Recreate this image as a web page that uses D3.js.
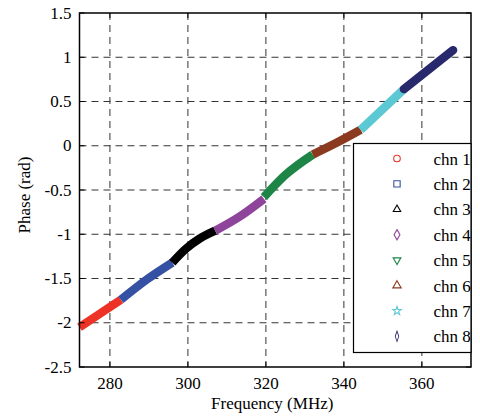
<!DOCTYPE html>
<html lang="en">
<head>
  <meta charset="utf-8">
  <title>Phase vs Frequency</title>
  <script src="https://d3js.org/d3.v7.min.js"></script>
  <style>
    body { margin: 0; padding: 0; background: #fff; }
    svg { display: block; }
    svg text { font-family: "Liberation Serif", "DejaVu Serif", "Times New Roman", serif; fill: #000; font-size: 17px; }
    svg text.legend-label { font-size: 17px; }
  </style>
</head>
<body>
  <div id="chart"></div>
  <script>
    // Data: frequency (MHz) and phase (rad) along each channel band
    const channels = ["chn 1", "chn 2", "chn 3", "chn 4", "chn 5", "chn 6", "chn 7", "chn 8"];
    const colors = ["#ec3326", "#3551a3", "#000000", "#8f449c", "#1d8646", "#8b3a1f", "#5cc8d3", "#28286c"];
    const freqs = [
      [272.2, 282.8],
      [282.8, 289.5, 296],
      [296, 299.6, 303, 307],
      [307, 313.3, 319.5],
      [319.5, 325, 332],
      [332, 338, 344.3],
      [344.3, 355.4],
      [355.4, 368]
    ];
    const phases = [
      [-2.05, -1.74],
      [-1.74, -1.51, -1.32],
      [-1.32, -1.16, -1.05, -0.96],
      [-0.96, -0.80, -0.60],
      [-0.58, -0.33, -0.10],
      [-0.10, 0.03, 0.18],
      [0.18, 0.64],
      [0.64, 1.08]
    ];
    const xTicks = [280, 300, 320, 340, 360];
    const yTicks = [-2.5, -2, -1.5, -1, -0.5, 0, 0.5, 1, 1.5];

    const W = 480, H = 416;
    const margin = { top: 13, right: 9, bottom: 49, left: 79.5 };
    const iw = W - margin.left - margin.right;
    const ih = H - margin.top - margin.bottom;

    const svg = d3.select("#chart").append("svg")
      .attr("width", W).attr("height", H);
    const g = svg.append("g").attr("transform", `translate(${margin.left},${margin.top})`);

    const x = d3.scaleLinear().domain([272.2, 372.6]).range([0, iw]);
    const y = d3.scaleLinear().domain([-2.5, 1.5]).range([ih, 0]);

    // Dashed grid
    g.selectAll(".vgrid").data(xTicks).enter().append("line")
      .attr("x1", d => x(d)).attr("x2", d => x(d))
      .attr("y1", 0).attr("y2", ih)
      .attr("stroke", "#333").attr("stroke-width", 1)
      .attr("stroke-dasharray", "7,5");
    g.selectAll(".hgrid").data(yTicks.filter(d => d > -2.5 && d < 1.5)).enter().append("line")
      .attr("x1", 0).attr("x2", iw)
      .attr("y1", d => y(d)).attr("y2", d => y(d))
      .attr("stroke", "#333").attr("stroke-width", 1)
      .attr("stroke-dasharray", "7,5");

    // Channel bands (dense markers drawn as a thick line)
    const line = d3.line().x(d => x(d[0])).y(d => y(d[1])).curve(d3.curveMonotoneX);
    channels.forEach((c, i) => {
      const pts = freqs[i].map((f, j) => [f, phases[i][j]]);
      g.append("path")
        .attr("d", line(pts))
        .attr("fill", "none")
        .attr("stroke", colors[i])
        .attr("stroke-width", 8.5)
        .attr("stroke-linecap", i === 7 ? "round" : "butt");
    });

    // Frame and inner ticks
    g.append("rect").attr("width", iw).attr("height", ih)
      .attr("fill", "none").attr("stroke", "#000").attr("stroke-width", 1.5);
    const tl = 5;
    xTicks.forEach(t => {
      g.append("line").attr("x1", x(t)).attr("x2", x(t)).attr("y1", ih).attr("y2", ih - tl).attr("stroke", "#000");
      g.append("line").attr("x1", x(t)).attr("x2", x(t)).attr("y1", 0).attr("y2", tl).attr("stroke", "#000");
    });
    yTicks.forEach(t => {
      g.append("line").attr("x1", 0).attr("x2", tl).attr("y1", y(t)).attr("y2", y(t)).attr("stroke", "#000");
      g.append("line").attr("x1", iw).attr("x2", iw - tl).attr("y1", y(t)).attr("y2", y(t)).attr("stroke", "#000");
    });

    // Tick labels
    g.selectAll(".xl").data(xTicks).enter().append("text")
      .attr("x", d => x(d)).attr("y", ih + 22)
      .attr("text-anchor", "middle")
      .text(d => d);
    g.selectAll(".yl").data(yTicks).enter().append("text")
      .attr("x", -8).attr("y", d => y(d) + 5.5)
      .attr("text-anchor", "end")
      .text(d => d);

    // Axis titles
    svg.append("text")
      .attr("x", margin.left + iw / 2 - 3).attr("y", 409)
      .attr("text-anchor", "middle")
      .text("Frequency (MHz)");
    svg.append("text")
      .attr("transform", "translate(30,195) rotate(-90)")
      .attr("text-anchor", "middle")
      .text("Phase (rad)");

    // Legend
    const legend = svg.append("g").attr("transform", "translate(353.5,143.5)");
    legend.append("rect").attr("width", 117.5).attr("height", 209)
      .attr("fill", "#fff").attr("stroke", "#000").attr("stroke-width", 1.2);
    const symbols = [
      d3.symbol().type(d3.symbolCircle).size(34),
      d3.symbol().type(d3.symbolSquare).size(40),
      d3.symbol().type(d3.symbolTriangle).size(24),
      d3.symbol().type(d3.symbolDiamond).size(30),
      d3.symbol().type(d3.symbolTriangle).size(26),
      d3.symbol().type(d3.symbolTriangle).size(30),
      d3.symbol().type(d3.symbolStar).size(22),
      d3.symbol().type(d3.symbolDiamond).size(22)
    ];
    const transforms = ["", "", "", "", " rotate(180)", "", "", " scale(0.7,1.2)"];
    channels.forEach((c, i) => {
      const cy = 15 + i * 25.4;
      legend.append("path")
        .attr("d", symbols[i]())
        .attr("transform", `translate(43.5,${cy})${transforms[i]}`)
        .attr("fill", "none")
        .attr("stroke", colors[i])
        .attr("stroke-width", 1.1);
      legend.append("text").attr("class", "legend-label")
        .attr("x", 80).attr("y", cy + 6)
        .text(c);
    });
  </script>
</body>
</html>
